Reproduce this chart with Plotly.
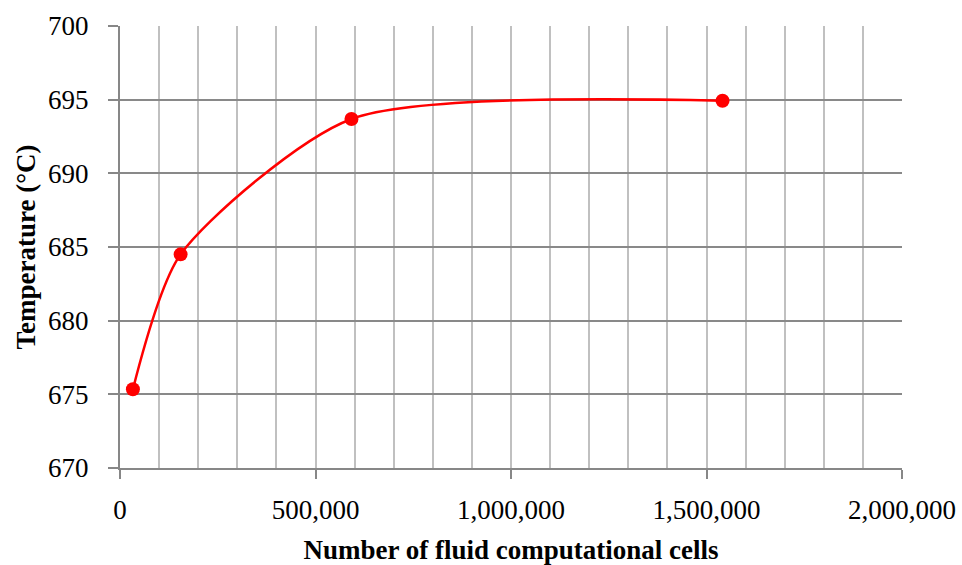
import plotly.graph_objects as go

# Mesh independence study: outlet temperature vs. fluid cell count
cells = [33000, 155000, 592000, 1541000]
temperature = [675.34, 684.5, 693.69, 694.93]

x_ticks = [0, 500000, 1000000, 1500000, 2000000]
x_tick_labels = ["0", "500,000", "1,000,000", "1,500,000", "2,000,000"]
y_ticks = [670, 675, 680, 685, 690, 695, 700]

SERIF = "Palatino Linotype, Book Antiqua, Palatino, Liberation Serif, serif"

fig = go.Figure()
fig.add_trace(go.Scatter(
    x=cells,
    y=temperature,
    mode="lines+markers",
    line=dict(color="#ff0000", width=2.5, shape="spline", smoothing=0.7),
    marker=dict(color="#ff0000", size=14),
    showlegend=False,
))

fig.update_layout(
    width=962,
    height=565,
    margin=dict(l=120, r=60, t=26, b=97),
    paper_bgcolor="white",
    plot_bgcolor="white",
    font=dict(family=SERIF, color="black", size=27),
    xaxis=dict(
        range=[0, 2000000],
        tickvals=x_ticks,
        ticktext=x_tick_labels,
        automargin=False,
        showgrid=True,
        gridcolor="#c0c0c0",
        gridwidth=1.5,
        minor=dict(dtick=100000, showgrid=True, gridcolor="#c0c0c0", gridwidth=1.5),
        showline=True,
        linecolor="#878787",
        linewidth=2,
        ticks="outside",
        ticklen=9,
        tickwidth=2,
        tickcolor="#878787",
        ticklabelstandoff=8,
        tickfont=dict(family=SERIF, size=27),
        title=dict(text="<b>Number of fluid computational cells</b>",
                   font=dict(family=SERIF, size=27), standoff=16),
        zeroline=False,
    ),
    yaxis=dict(
        range=[670, 700],
        tickvals=y_ticks,
        automargin=False,
        showgrid=True,
        gridcolor="#898989",
        gridwidth=1.5,
        showline=True,
        linecolor="#878787",
        linewidth=2,
        ticks="outside",
        ticklen=10,
        tickwidth=2,
        tickcolor="#878787",
        ticklabelstandoff=14,
        tickfont=dict(family=SERIF, size=27),
        title=dict(text="<b>Temperature (°C)</b>",
                   font=dict(family=SERIF, size=27), standoff=5),
        zeroline=False,
    ),
)

fig.write_html("out.html")
